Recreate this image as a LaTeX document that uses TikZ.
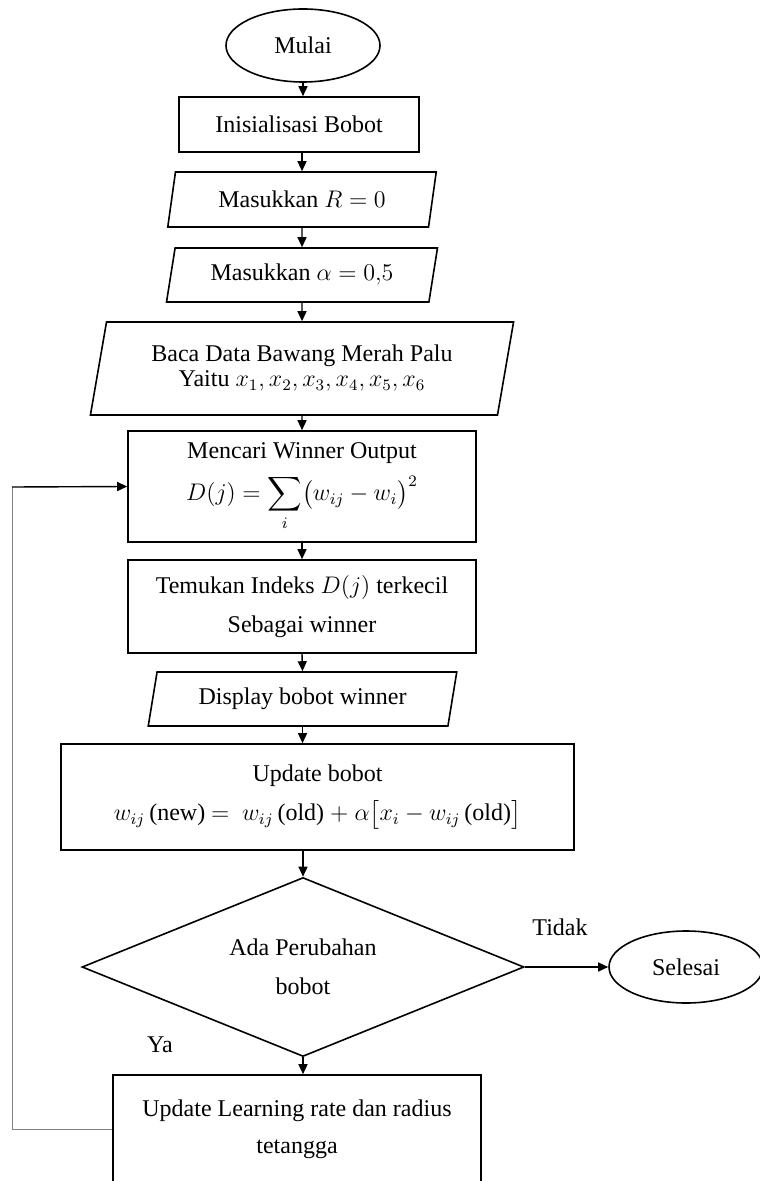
\documentclass[tikz,border=0pt]{standalone}
\usepackage{amsmath}
\usepackage{fontspec}
\setmainfont{Liberation Serif}
\usetikzlibrary{shapes.geometric,arrows.meta}

\begin{document}
\begin{tikzpicture}[x=0.5pt, y=-0.5pt,
	every node/.style={font=\fontsize{12}{14.5}\selectfont, align=center},
	>={Triangle[length=5pt,width=4.5pt]},
	term/.style={draw, line width=0.8pt, ellipse, inner sep=0pt},
	proc/.style={draw, line width=0.8pt, rectangle, inner sep=2pt},
	io/.style={draw, line width=0.8pt, trapezium, trapezium left angle=76,
		trapezium right angle=104, trapezium stretches=true, inner sep=1pt},
	cond/.style={draw, line width=0.8pt, diamond, aspect=2.5, inner sep=0pt},
	flow/.style={line width=0.7pt}
]
\useasboundingbox (0,0) rectangle (759,1181);

\node[term, minimum width=77pt, minimum height=36.5pt] (Mulai) at (303,45.5) {Mulai};
\node[proc, minimum width=120pt, minimum height=27.5pt] (Init) at (299,124.5) {Inisialisasi Bobot};
\node[io, minimum width=135.5pt, minimum height=27.5pt] (InR) at (302,199.5) {Masukkan $R=0$};
\node[io, minimum width=136pt, minimum height=27pt] (InA) at (302,275) {Masukkan $\alpha=0{,}5$};
\node[io, minimum width=212pt, minimum height=46.5pt] (Baca) at (302,368.5)
	{Baca Data Bawang Merah Palu\\[-2pt] Yaitu $x_1,x_2,x_3,x_4,x_5,x_6$};
\node[proc, minimum width=174pt, minimum height=55.5pt] (Cari) at (302,486.5)
	{Mencari Winner Output\\[5pt] $\displaystyle D(j)=\sum_{i}\bigl(w_{ij}-w_i\bigr)^2$};
\node[proc, minimum width=174pt, minimum height=46.5pt] (Temu) at (302,606.5)
	{Temukan Indeks $D(j)$ terkecil\\[5pt] Sebagai winner};
\node[io, minimum width=154.5pt, minimum height=27pt] (Disp) at (302.5,699) {Display bobot winner};
\node[proc, minimum width=256.5pt, minimum height=53pt] (Upd) at (317.5,797)
	{Update bobot\\[5pt] $w_{ij}\,$(new) $=\ w_{ij}\,$(old) $+\ \alpha\bigl[x_i-w_{ij}\,$(old)$\bigr]$};
\node[cond, minimum width=221pt, minimum height=89.5pt] (Cek) at (303,967)
	{Ada Perubahan\\[5pt] bobot};
\node[term, minimum width=77pt, minimum height=36pt] (Selesai) at (686,967) {Selesai};
\node[proc, minimum width=184pt, minimum height=54pt] (Learn) at (297,1129)
	{Update Learning rate dan radius\\[4pt] tetangga};

\node (Tidak) at (560,927) {Tidak};
\node (Ya) at (160,1045) {Ya};
\coordinate (Loop) at (12,487);

\draw[flow]
	(Mulai.south) edge[->] (Mulai.south |- Init.north)
	(InR.north |- Init.south) edge[->] (InR.north)
	(InR.south) edge[->] (InA.north)
	(InA.south) edge[->] (Baca.north)
	(Baca.south) edge[->] (Cari.north)
	(Cari.south) edge[->] (Temu.north)
	(Temu.south) edge[->] (Disp.north)
	(Disp.south) edge[->] (Disp.south |- Upd.north)
	(Cek.north |- Upd.south) edge[->] (Cek.north)
	(Cek.south) edge[->] (Cek.south |- Learn.north)
	(Cek.east) edge[->] (Selesai.west)
;
\draw[gray, line width=0.4pt] (Learn.west) -| (Loop);
\draw[flow, ->] (Loop) -- (Cari.west);
\end{tikzpicture}
\end{document}
